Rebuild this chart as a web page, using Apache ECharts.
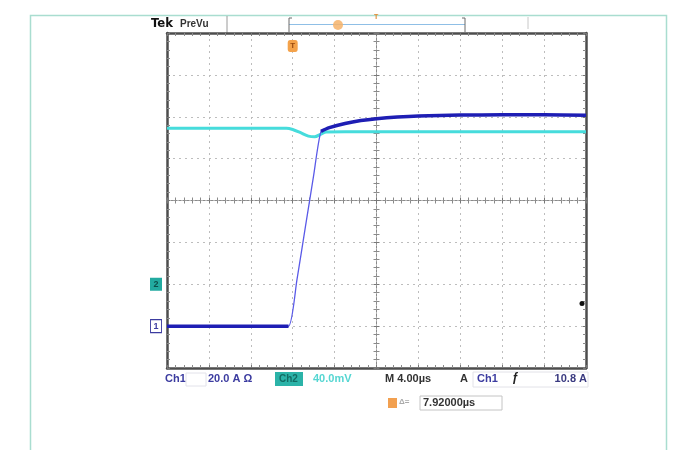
<!DOCTYPE html>
<html>
<head>
<meta charset="utf-8">
<script src="https://cdn.jsdelivr.net/npm/echarts@6/dist/echarts.min.js"></script>
<style>html,body{margin:0;padding:0;background:#fff;}#c{width:682px;height:450px;}</style>
</head>
<body>
<div id="c"></div>
<script>
// ---- data ----
// time axis in microseconds (4 µs/div, trigger at centre)
const ch1Time = [-20, -16, -12, -10, -8.4, -7.6, -6.8, -6.0, -5.3, -4.5, -3, -1.5, 0, 2, 4, 8, 12, 16, 20];
const ch1Amps = [0, 0, 0, 0, 0, 22, 47, 72, 93, 94.8, 96.8, 98.2, 99.1, 99.9, 100.4, 100.8, 100.9, 100.9, 100.7];
const ch1RampStart = -8.4;   // end of thick low segment
const ch1RampEnd = -5.3;     // start of thick high segment
const ch2Time = [-20, -12, -8.6, -8.0, -7.2, -6.5, -5.9, -5.3, -4.8, -3, 0, 8, 20];
const ch2mV   = [149, 149, 149, 147.8, 144.5, 141.5, 140.8, 143.5, 145.4, 145.6, 145.6, 145.6, 145.6];
const ch1Scale = 20;    // A/div
const ch2Scale = 40;    // mV/div
const ch1Offset = -3;   // div
const ch2Offset = -2;   // div
const trigLevel = 10.8; // A
const trigTime = -8;    // µs
const xMin = -20, xMax = 20, xDiv = 4;
const yMin = -4, yMax = 4;

// ---- build series data in divisions ----
const ch1All = ch1Time.map((t, i) => [t, ch1Amps[i] / ch1Scale + ch1Offset]);
const ch1Thick = [];
ch1Time.forEach((t, i) => {
  const v = ch1Amps[i] / ch1Scale + ch1Offset;
  if (t <= ch1RampStart || t >= ch1RampEnd) ch1Thick.push([t, v]);
  if (t === ch1RampStart) ch1Thick.push([(ch1RampStart + ch1RampEnd) / 2, '-']);
});
const ch2Data = ch2Time.map((t, i) => [t, ch2mV[i] / ch2Scale + ch2Offset]);

function xAx(pos, center) {
  return {
    type: 'value', min: xMin, max: xMax, interval: xDiv, position: pos,
    axisLine: center ? {onZero: true, lineStyle: {color: '#8a8a8a', width: 1, type: [2, 2]}}
                     : {onZero: false, lineStyle: {color: '#4d4d4d', width: 2.5}},
    axisTick: {show: true, inside: !center, length: 3, lineStyle: {color: '#777'}},
    minorTick: {show: true, splitNumber: 5, length: 3, lineStyle: {color: '#8a8a8a'}},
    axisLabel: {show: false},
    splitLine: {show: pos === 'bottom' && !center, lineStyle: {color: '#bdbdbd', type: [2, 4]}}
  };
}
function yAx(pos, center) {
  return {
    type: 'value', min: yMin, max: yMax, interval: 1, position: pos,
    axisLine: center ? {onZero: true, lineStyle: {color: '#8a8a8a', width: 1, type: [2, 2]}}
                     : {onZero: false, lineStyle: {color: '#4d4d4d', width: 2.5}},
    axisTick: {show: true, inside: !center, length: 3, lineStyle: {color: '#777'}},
    minorTick: {show: true, splitNumber: 5, length: 3, lineStyle: {color: '#8a8a8a'}},
    axisLabel: {show: false},
    splitLine: {show: pos === 'left' && !center, lineStyle: {color: '#bdbdbd', type: [2, 4]}}
  };
}

const chart = echarts.init(document.getElementById('c'), null, {renderer: 'canvas'});
const blue = '#3c3ca0';
const txt = (x, y, s, color, size, extra) => Object.assign({
  type: 'text', left: x, top: y,
  style: {text: s, fill: color, font: (extra && extra.font) || ('bold ' + size + 'px "Liberation Sans", Arial, sans-serif')}
}, extra && extra.el ? extra.el : {});

chart.setOption({
  animation: false,
  backgroundColor: '#ffffff',
  grid: {left: 167, top: 33, right: 96, bottom: 82, containLabel: false},
  xAxis: [xAx('bottom', false), xAx('top', false), xAx('bottom', true), xAx('top', true)],
  yAxis: [yAx('left', false), yAx('right', false), yAx('left', true), yAx('right', true)],
  series: [
    {
      name: 'Ch2', type: 'line', data: ch2Data, showSymbol: false, smooth: 0.3,
      lineStyle: {color: '#46dcdc', width: 3}, z: 3,
      markPoint: {
        symbol: 'rect', symbolSize: [12, 13], symbolOffset: [-11, 0],
        itemStyle: {color: '#22aaa0'},
        label: {show: true, formatter: '2', color: '#0c4f4a', fontSize: 9, fontWeight: 'bold'},
        data: [{coord: [xMin, ch2Offset]}]
      }
    },
    {
      name: 'Ch1 ramp', type: 'line', data: ch1All, showSymbol: false, smooth: 0.2,
      lineStyle: {color: '#5a5ae8', width: 1.3}, z: 4
    },
    {
      name: 'Ch1', type: 'line', data: ch1Thick, showSymbol: false, smooth: 0.3, connectNulls: false,
      lineStyle: {color: '#1e1eb4', width: 3.5}, z: 5,
      markPoint: {
        data: [
          {coord: [xMin, ch1Offset], symbol: 'rect', symbolSize: [11, 13], symbolOffset: [-11, 0],
           itemStyle: {color: '#ffffff', borderColor: blue, borderWidth: 1},
           label: {show: true, formatter: '1', color: blue, fontSize: 9, fontWeight: 'bold'}},
          {coord: [xMax, trigLevel / ch1Scale + ch1Offset], symbol: 'circle', symbolSize: 5, symbolOffset: [-4, 0],
           itemStyle: {color: '#111'}, label: {show: false}},
          {coord: [trigTime, yMax], symbol: 'roundRect', symbolSize: [10, 12], symbolOffset: [0, 13],
           itemStyle: {color: '#f4a24a'},
           label: {show: true, formatter: 'T', color: '#9a4a10', fontSize: 8, fontWeight: 'bold'}}
        ]
      }
    }
  ],
  graphic: [
    // outer frame
    {type: 'rect', shape: {x: 30.5, y: 15.5, width: 636, height: 460}, style: {fill: 'none', stroke: '#a9ddd0', lineWidth: 1.5}, z: -1},
    // top status bar
    txt(151, 17, 'Tek', '#111', 13, {font: 'bold 13px "DejaVu Sans Condensed", "Liberation Sans", sans-serif'}),
    txt(180, 19, 'PreVu', '#333', 10, {font: 'bold 10px "Liberation Sans", sans-serif'}),
    {type: 'line', shape: {x1: 227, y1: 16, x2: 227, y2: 33}, style: {stroke: '#9a9a9a', lineWidth: 1}},
    {type: 'line', shape: {x1: 289, y1: 24.5, x2: 465, y2: 24.5}, style: {stroke: '#8fbfe6', lineWidth: 1}},
    {type: 'line', shape: {x1: 289, y1: 18, x2: 289, y2: 32}, style: {stroke: '#6a6a6a', lineWidth: 1}},
    {type: 'line', shape: {x1: 465, y1: 18, x2: 465, y2: 32}, style: {stroke: '#6a6a6a', lineWidth: 1}},
    {type: 'line', shape: {x1: 289, y1: 18, x2: 292, y2: 18}, style: {stroke: '#6a6a6a', lineWidth: 1}},
    {type: 'line', shape: {x1: 462, y1: 18, x2: 465, y2: 18}, style: {stroke: '#6a6a6a', lineWidth: 1}},
    {type: 'circle', shape: {cx: 338, cy: 25, r: 5}, style: {fill: '#f6b36a', opacity: 0.85}},
    {type: 'text', left: 374, top: 14, style: {text: 'T', fill: '#e08a30', font: 'bold 7px sans-serif'}},
    {type: 'line', shape: {x1: 528, y1: 17, x2: 528, y2: 29}, style: {stroke: '#c8c8c8', lineWidth: 1}},
    // bottom readout
    txt(165, 373, 'Ch1', blue, 11),
    {type: 'rect', shape: {x: 186, y: 373, width: 20, height: 13}, style: {fill: 'none', stroke: '#e2e2ea', lineWidth: 1}},
    txt(208, 373, '20.0 A Ω', blue, 11),
    {type: 'rect', shape: {x: 275, y: 372, width: 28, height: 14}, style: {fill: '#2bb3a8'}},
    txt(279, 374, 'Ch2', '#126c64', 10),
    txt(313, 373, '40.0mV', '#55d6d2', 11),
    txt(385, 373, 'M 4.00µs', '#333', 11),
    txt(460, 373, 'A', '#333', 11),
    {type: 'rect', shape: {x: 473, y: 372, width: 115, height: 15}, style: {fill: 'none', stroke: '#e2e2e8', lineWidth: 1}},
    txt(477, 373, 'Ch1', blue, 11),
    txt(512, 372, 'ƒ', '#222', 12),
    {type: 'text', right: 95, top: 373, style: {text: '10.8 A', fill: '#3a3a80', font: 'bold 11px "Liberation Sans", sans-serif'}},
    // cursor readout
    {type: 'rect', shape: {x: 388, y: 398, width: 9, height: 10}, style: {fill: '#f2a050'}},
    txt(399, 398, 'Δ=', '#aaa', 8),
    {type: 'rect', shape: {x: 420, y: 396, width: 82, height: 14}, style: {fill: 'none', stroke: '#c4c4c4', lineWidth: 1}},
    txt(423, 397, '7.92000µs', '#333', 11)
  ]
});
</script>
</body>
</html>
